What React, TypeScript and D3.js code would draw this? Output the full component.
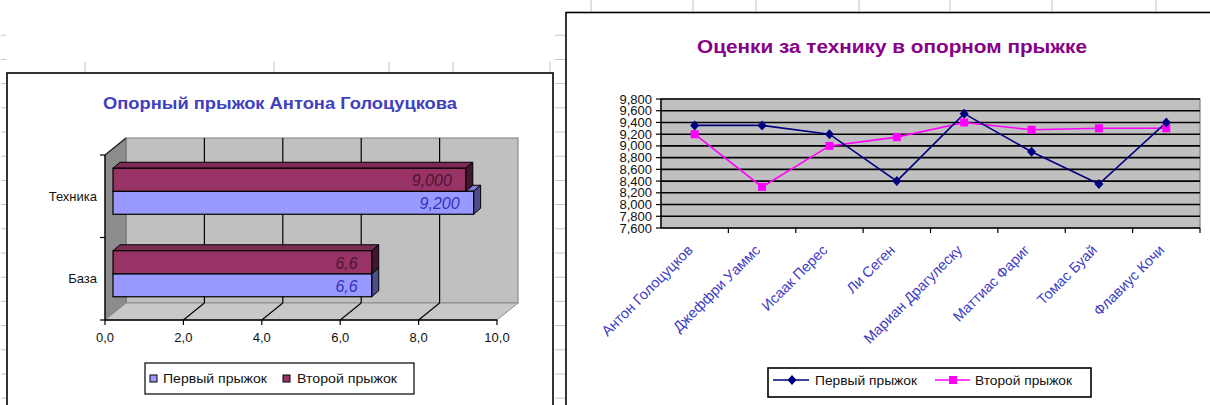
import React from "react";
import * as d3 from "d3";

// ---- Bar chart: vault of Anton Golotsutskov ----
const baseCategories = ["Техника", "База"];
const firstJump = [9.2, 6.6];
const secondJump = [9.0, 6.6];
const labelDecimals = [3, 1];
const barAxisTicks = [0, 2, 4, 6, 8, 10];
const seriesNames = ["Первый прыжок", "Второй прыжок"];

// ---- Line chart: technique scores on vault ----
const gymnasts = [
  "Антон Голоцуцков",
  "Джеффри Уаммс",
  "Исаак Перес",
  "Ли Сеген",
  "Мариан Драгулеску",
  "Маттиас Фариг",
  "Томас Буай",
  "Флавиус Кочи",
];
const techFirst = [9.35, 9.35, 9.2, 8.4, 9.55, 8.9, 8.35, 9.4];
const techSecond = [9.2, 8.3, 9.0, 9.15, 9.4, 9.275, 9.3, 9.3];
const techTicks = [7.6, 7.8, 8.0, 8.2, 8.4, 8.6, 8.8, 9.0, 9.2, 9.4, 9.6, 9.8];

const FONT = "'Liberation Sans', Arial, sans-serif";
const ru = d3.formatLocale({
  decimal: ",",
  thousands: " ",
  grouping: [3],
  currency: ["", " ₽"],
});
const fmt1 = ru.format(".1f");
const fmt3 = ru.format(".3f");

const BLUE_FRONT = "#9999ff";
const BLUE_TOP = "#7b7bd6";
const BLUE_SIDE = "#4d4d8c";
const RED_FRONT = "#993366";
const RED_TOP = "#7d2a54";
const RED_SIDE = "#421630";

// spreadsheet row lines peeking out around the charts
const rowLines = d3.range(1, 17).map((k) => 11 + k * 24.2);
const colMarksLeft = [85, 274, 389, 453, 550];
const colMarksRight = [591, 693, 756, 859, 950, 1052, 1156];

function BarChart() {
  const x = d3.scaleLinear().domain([0, 10]).range([105, 497]);
  const y = d3.scaleBand<string>().domain(baseCategories).range([155, 320]);
  const wallDx = 21;
  const wallDy = -17;
  const barOff = 8;
  const barDx = 7;
  const barDy = -6;
  const barH = 23;
  const xb = (v: number) => x(v) + barOff;

  const bars: React.ReactNode[] = [];
  baseCategories.forEach((cat, i) => {
    const mid = (y(cat) as number) + y.bandwidth() / 2 - 5;
    // draw lower (first jump) bar first so the upper one covers its top face
    const order = [
      { v: firstJump[i], row: 1, front: BLUE_FRONT, top: BLUE_TOP, side: BLUE_SIDE, lab: "#3333bb" },
      { v: secondJump[i], row: 0, front: RED_FRONT, top: RED_TOP, side: RED_SIDE, lab: "#4a1432" },
    ];
    order.forEach((b, j) => {
      const y0 = mid - barH + b.row * barH;
      const x0 = xb(0);
      const x1 = xb(b.v);
      const label = labelDecimals[i] === 3 ? fmt3(b.v) : fmt1(b.v);
      bars.push(
        <g key={`${i}-${j}`}>
          <polygon
            points={`${x0},${y0} ${x0 + barDx},${y0 + barDy} ${x1 + barDx},${y0 + barDy} ${x1},${y0}`}
            fill={b.top}
            stroke="#000"
            strokeWidth={1}
          />
          <polygon
            points={`${x1},${y0} ${x1 + barDx},${y0 + barDy} ${x1 + barDx},${y0 + barH + barDy} ${x1},${y0 + barH}`}
            fill={b.side}
            stroke="#000"
            strokeWidth={1}
          />
          <rect x={x0} y={y0} width={x1 - x0} height={barH} fill={b.front} stroke="#000" strokeWidth={1.2} />
          <text
            x={x1 - 14}
            y={y0 + barH / 2 + 1}
            textAnchor="end"
            dominantBaseline="central"
            fontStyle="italic"
            fontSize={16}
            fontFamily={FONT}
            fill={b.lab}
          >
            {label}
          </text>
        </g>
      );
    });
  });

  const xL = x(0);
  const xR = x(10);
  const yT = 155;
  const yB = 320;

  return (
    <g>
      <rect x={7} y={73} width={546} height={400} fill="#fff" stroke="#000" strokeWidth={1.6} />
      <text
        x={280}
        y={103}
        textAnchor="middle"
        dominantBaseline="central"
        fontWeight="bold"
        fontSize={16}
        fontFamily={FONT}
        fill="#4040bf"
        textLength={354}
        lengthAdjust="spacingAndGlyphs"
      >
        Опорный прыжок Антона Голоцуцкова
      </text>

      {/* walls and floor */}
      <rect x={xL + wallDx} y={yT + wallDy} width={xR - xL} height={yB - yT} fill="#c0c0c0" stroke="#8c8c8c" strokeWidth={1.2} />
      <polygon
        points={`${xL},${yT} ${xL + wallDx},${yT + wallDy} ${xL + wallDx},${yB + wallDy} ${xL},${yB}`}
        fill="#8c8c8c"
        stroke="#6e6e6e"
        strokeWidth={1}
      />
      <line x1={xL} y1={yT} x2={xL + wallDx} y2={yT + wallDy} stroke="#222" strokeWidth={1.2} />
      <polygon
        points={`${xL},${yB} ${xL + wallDx},${yB + wallDy} ${xR + wallDx},${yB + wallDy} ${xR},${yB}`}
        fill="#c8c8c8"
        stroke="#8c8c8c"
        strokeWidth={1}
      />
      {barAxisTicks
        .filter((t) => t > 0 && t < 10)
        .map((t) => (
          <g key={t}>
            <line x1={x(t) + wallDx} y1={yT + wallDy} x2={x(t) + wallDx} y2={yB + wallDy} stroke="#000" strokeWidth={1.2} />
            <line x1={x(t)} y1={yB} x2={x(t) + wallDx} y2={yB + wallDy} stroke="#000" strokeWidth={1.1} />
          </g>
        ))}

      {bars}

      {/* axes */}
      <line x1={xL} y1={yT} x2={xL} y2={yB} stroke="#000" strokeWidth={1.3} />
      {[yT, ...baseCategories.slice(1).map((c) => y(c) as number), yB].map((v, i) => (
        <line key={i} x1={xL - 5} y1={v} x2={xL} y2={v} stroke="#000" strokeWidth={1.2} />
      ))}
      <line x1={xL} y1={yB} x2={xR} y2={yB} stroke="#000" strokeWidth={1.3} />
      {barAxisTicks.map((t) => (
        <g key={t}>
          <line x1={x(t)} y1={yB} x2={x(t)} y2={yB + 5} stroke="#000" strokeWidth={1.2} />
          <text x={x(t)} y={yB + 17} textAnchor="middle" dominantBaseline="central" fontSize={13} fontFamily={FONT} fill="#111">
            {fmt1(t)}
          </text>
        </g>
      ))}
      {baseCategories.map((c) => (
        <text
          key={c}
          x={97}
          y={(y(c) as number) + y.bandwidth() / 2}
          textAnchor="end"
          dominantBaseline="central"
          fontSize={13}
          fontFamily={FONT}
          fill="#111"
        >
          {c}
        </text>
      ))}

      {/* legend */}
      <rect x={145} y={363} width={269} height={31} fill="#fff" stroke="#000" strokeWidth={1.2} />
      <rect x={150} y={375} width={7} height={7} fill={BLUE_FRONT} stroke="#000" strokeWidth={1} />
      <text x={163} y={378.5} dominantBaseline="central" fontSize={13} fontFamily={FONT} fill="#111" textLength={104} lengthAdjust="spacingAndGlyphs">
        {seriesNames[0]}
      </text>
      <rect x={283} y={375} width={7} height={7} fill={RED_FRONT} stroke="#000" strokeWidth={1} />
      <text x={297} y={378.5} dominantBaseline="central" fontSize={13} fontFamily={FONT} fill="#111" textLength={100} lengthAdjust="spacingAndGlyphs">
        {seriesNames[1]}
      </text>
    </g>
  );
}

function LineChart() {
  const x = d3.scaleBand<string>().domain(gymnasts).range([661, 1200]);
  const y = d3.scaleLinear().domain([7.6, 9.8]).range([228, 99]);
  const cx = (g: string) => (x(g) as number) + x.bandwidth() / 2;
  const line = d3
    .line<number>()
    .x((_, i) => cx(gymnasts[i]))
    .y((v) => y(v));
  const diamond = "M0,-5L4.5,0L0,5L-4.5,0Z";

  return (
    <g>
      <rect x={566} y={12.5} width={700} height={500} fill="#fff" stroke="#000" strokeWidth={1.6} />
      <text
        x={892}
        y={47}
        textAnchor="middle"
        dominantBaseline="central"
        fontWeight="bold"
        fontSize={18}
        fontFamily={FONT}
        fill="#86008a"
        textLength={390}
        lengthAdjust="spacingAndGlyphs"
      >
        Оценки за технику в опорном прыжке
      </text>

      <rect x={661} y={99} width={539} height={129} fill="#c0c0c0" stroke="#808080" strokeWidth={1.2} />
      {techTicks.slice(1).map((t) => (
        <line key={t} x1={661} x2={1200} y1={y(t)} y2={y(t)} stroke="#000" strokeWidth={1.6} />
      ))}
      <line x1={661} x2={661} y1={99} y2={228} stroke="#000" strokeWidth={1.4} />
      <line x1={661} x2={1200} y1={228} y2={228} stroke="#000" strokeWidth={1.4} />
      {techTicks.map((t) => (
        <g key={t}>
          <line x1={656} x2={661} y1={y(t)} y2={y(t)} stroke="#000" strokeWidth={1.2} />
          <text x={652} y={y(t)} textAnchor="end" dominantBaseline="central" fontSize={13} fontFamily={FONT} fill="#111">
            {fmt3(t)}
          </text>
        </g>
      ))}
      {gymnasts.map((g) => (
        <line key={g} x1={(x(g) as number) + x.bandwidth()} x2={(x(g) as number) + x.bandwidth()} y1={228} y2={233} stroke="#000" strokeWidth={1.2} />
      ))}
      {gymnasts.map((g) => (
        <text
          key={g}
          transform={`translate(${cx(g) - 1},${251}) rotate(-45)`}
          textAnchor="end"
          fontSize={14.5}
          fontFamily={FONT}
          fill="#3c3cc4"
        >
          {g}
        </text>
      ))}

      <path d={line(techSecond) as string} fill="none" stroke="#ff00ff" strokeWidth={1.6} />
      <path d={line(techFirst) as string} fill="none" stroke="#000080" strokeWidth={1.6} />
      {techSecond.map((v, i) => (
        <rect key={i} x={cx(gymnasts[i]) - 4} y={y(v) - 4} width={8} height={8} fill="#ff00ff" />
      ))}
      {techFirst.map((v, i) => (
        <path key={i} d={diamond} transform={`translate(${cx(gymnasts[i])},${y(v)})`} fill="#000080" />
      ))}

      {/* legend */}
      <rect x={768} y={368} width={323} height={29} fill="#fff" stroke="#000" strokeWidth={1.6} />
      <line x1={773} x2={809} y1={380} y2={380} stroke="#000080" strokeWidth={1.6} />
      <path d={diamond} transform="translate(792,380)" fill="#000080" />
      <text x={815} y={380} dominantBaseline="central" fontSize={13} fontFamily={FONT} fill="#111" textLength={102} lengthAdjust="spacingAndGlyphs">
        {seriesNames[0]}
      </text>
      <line x1={935} x2={970} y1={380} y2={380} stroke="#ff00ff" strokeWidth={1.6} />
      <rect x={949} y={376} width={8} height={8} fill="#ff00ff" />
      <text x={975} y={380} dominantBaseline="central" fontSize={13} fontFamily={FONT} fill="#111" textLength={97} lengthAdjust="spacingAndGlyphs">
        {seriesNames[1]}
      </text>
    </g>
  );
}

export default function App() {
  return (
    <svg
      width={1210}
      height={405}
      viewBox="0 0 1210 405"
      style={{ position: "absolute", left: 0, top: 0, display: "block" }}
    >
      <rect x={0} y={0} width={1210} height={405} fill="#fff" />
      {/* sheet grid fragments */}
      {rowLines.map((r) => (
        <g key={r}>
          <line x1={1} x2={6} y1={r} y2={r} stroke="#c4c4c4" strokeWidth={1} />
          <line x1={555} x2={565} y1={r} y2={r} stroke="#c4c4c4" strokeWidth={1} />
        </g>
      ))}
      {colMarksLeft.map((c) => (
        <line key={c} x1={c} x2={c} y1={62} y2={72} stroke="#c4c4c4" strokeWidth={1} />
      ))}
      {colMarksRight.map((c) => (
        <line key={c} x1={c} x2={c} y1={0} y2={12} stroke="#c4c4c4" strokeWidth={1} />
      ))}
      <BarChart />
      <LineChart />
    </svg>
  );
}
